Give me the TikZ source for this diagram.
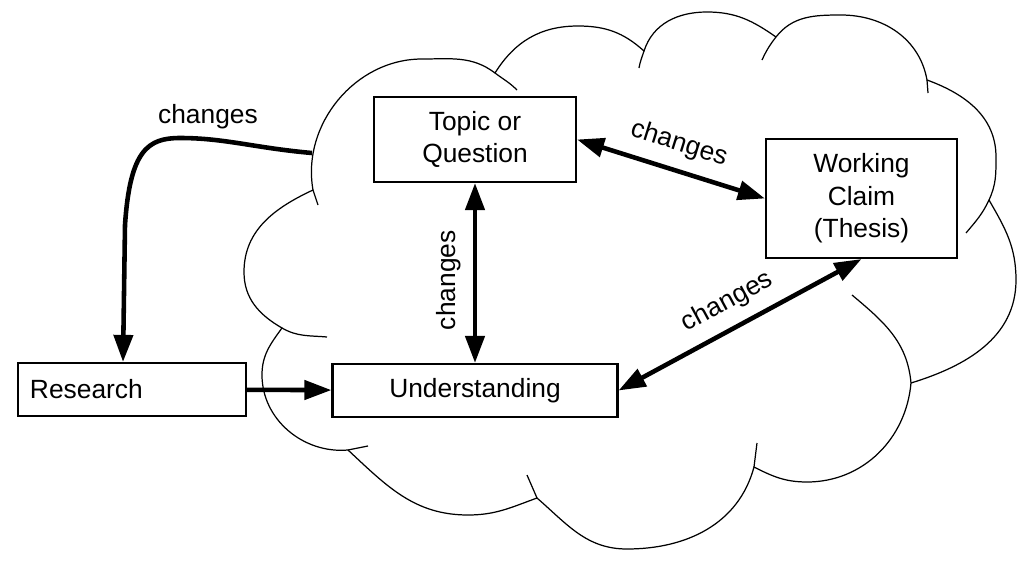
\documentclass[tikz,border=0pt]{standalone}
\usepackage{fontspec}
\setmainfont{Liberation Sans}
\usepackage{tikz}
\usetikzlibrary{arrows.meta}

\begin{document}
\begin{tikzpicture}[
    >={Triangle[length=7.7pt,width=5.4pt]},
    line width=1.3pt,
    every node/.style={font=\fontsize{7.5}{9.2}\selectfont},
    box/.style={draw, line width=0.6pt, inner sep=0pt, align=center},
    puff/.style={line width=0.35pt, line join=round}
  ]
    \useasboundingbox (0,0) rectangle (10.24,5.65);

    \coordinate (KA) at (3.13,3.75);
    \coordinate (AB) at (4.95,4.92);
    \coordinate (BC) at (6.44,5.14);
    \coordinate (CD) at (7.76,5.28);
    \coordinate (DE) at (9.27,4.85);
    \coordinate (EF) at (9.89,3.65);
    \coordinate (FG) at (9.11,1.82);
    \coordinate (GH) at (7.54,0.98);
    \coordinate (HI) at (5.37,0.67);
    \coordinate (IJ) at (3.48,1.15);
    \coordinate (JK) at (2.82,2.37);

    \draw[puff] (KA) to[out=100,in=180] (4.22,5.06) to[out=0,in=143] (AB)
      to[out=58,in=180] (5.78,5.39) to[out=0,in=138] (BC)
      to[out=72,in=180] (7.07,5.53) to[out=0,in=145] (CD)
      to[out=52,in=180] (8.41,5.50) to[out=0,in=100] (DE)
      to[out=-20,in=90] (9.96,4.08) to[out=-90,in=65] (EF)
      to[out=-60,in=90] (10.16,2.85) to[out=-90,in=17] (FG)
      to[out=-95,in=0] (8.07,0.83) to[out=180,in=-27] (GH)
      to[out=-105,in=0] (6.27,0.16) to[out=180,in=-41] (HI)
      to[out=200,in=0] (4.68,0.50) to[out=180,in=-43] (IJ)
      to[out=185,in=-90] (2.62,1.90) to[out=90,in=-126] (JK)
      to[out=150,in=-90] (2.44,2.93) to[out=90,in=205] (KA);
    \draw[puff] (KA) -- (3.18,3.60)
      (AB) to[out=-37,in=135] (5.17,4.75)
      (BC) to[out=-108,in=80] (6.39,4.97)
      (CD) to[out=-128,in=65] (7.62,5.05)
      (DE) -- (9.28,4.72)
      (EF) to[out=-115,in=50] (9.66,3.32)
      (FG) to[out=95,in=-40] (8.52,2.70)
      (GH) -- (7.57,1.22)
      (HI) -- (5.27,0.90)
      (IJ) -- (3.68,1.19)
      (JK) to[out=-30,in=175] (3.27,2.28);

    \node[box, minimum width=2.02cm, minimum height=0.85cm] (topic) at (4.75,4.255) {Topic or\\Question};
    \node[box, minimum width=1.91cm, minimum height=1.19cm] (claim) at (8.615,3.665) {Working\\Claim\\(Thesis)};
    \node[box, minimum width=2.85cm, minimum height=0.53cm] (under) at (4.75,1.745) {Understanding};
    \node[box, text width=2.04cm, align=left, inner xsep=0.12cm, minimum height=0.53cm] (research) at (1.32,1.755) {Research};

    \coordinate (cloudL) at (3.12,4.12);

    \draw[<->] (topic.east) -- node[above, sloped] {changes} (claim.west);
    \draw[<->] (under.north) -- node[above, sloped, pos=0.46] {changes} (topic.south);
    \draw[<->] (under.east) -- node[above, sloped] {changes} (claim.south);
    \draw[->] (research) -- (under);
    \draw[->] (cloudL) .. controls (2.55,4.17) and (2.25,4.27) .. (1.80,4.27) node[pos=0.78, above=-1pt] {changes}
      .. controls (1.48,4.27) and (1.30,4.15) .. (1.25,3.40) -- ([xshift=-0.09cm]research.north);
  \end{tikzpicture}
\end{document}
